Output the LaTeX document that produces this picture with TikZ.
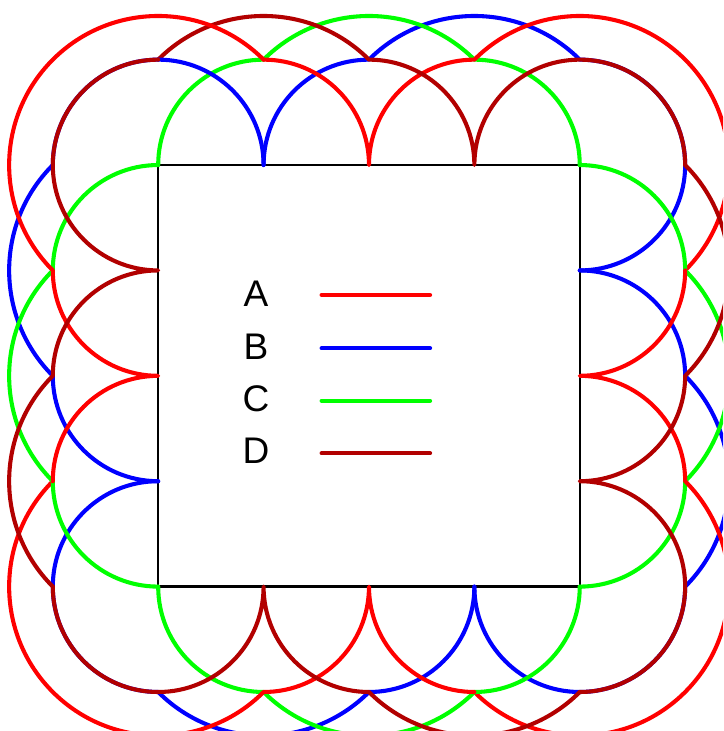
\documentclass[tikz,border=0pt]{standalone}
\usepackage{fontspec}
\setmainfont{Liberation Sans}
\definecolor{cA}{RGB}{255,0,0}
\definecolor{cB}{RGB}{0,0,255}
\definecolor{cC}{RGB}{0,255,0}
\definecolor{cD}{RGB}{178,0,0}
\begin{document}
\begin{tikzpicture}[x=1cm,y=1cm,
  trace/.style={line width=1.1pt, line cap=round, line join=round},
  frame/.style={line width=0.65pt, black},
  legendline/.style={line width=1.15pt, line cap=round},
  legendtext/.style={font=\fontsize{10}{12}\selectfont, inner sep=0pt}]
\useasboundingbox (-1.501,-1.370) rectangle (5.359,5.566);
\clip (-1.501,-1.370) rectangle (5.359,5.566);
\draw[frame] (0,0) rectangle (4,4);
\foreach \k in {0,1,2,3}{
  \begin{scope}[rotate around={-90*\k:(2,2)}]
    % B (blue)
    \draw[trace,cB] (1,4) arc[start angle=180,end angle=90,radius=1]
      arc[start angle=135,end angle=45,radius=1.41421]
      arc[start angle=90,end angle=-90,radius=1];
    % C (green)
    \draw[trace,cC] (0,4) arc[start angle=180,end angle=90,radius=1]
      arc[start angle=135,end angle=45,radius=1.41421]
      arc[start angle=90,end angle=0,radius=1];
    % A (red)
    \draw[trace,cA] (1,5) arc[start angle=90,end angle=0,radius=1]
      arc[start angle=180,end angle=90,radius=1]
      arc[start angle=135,end angle=-45,radius=1.41421];
    % D (dark red)
    \draw[trace,cD] (0,5) arc[start angle=135,end angle=45,radius=1.41421]
      arc[start angle=90,end angle=0,radius=1]
      arc[start angle=180,end angle=0,radius=1];
  \end{scope}
}
% legend
\node[legendtext] (lA) at (0.928,2.782) {A};
\node[legendtext] (lB) at (0.928,2.278) {B};
\node[legendtext] (lC) at (0.928,1.785) {C};
\node[legendtext] (lD) at (0.928,1.287) {D};
\coordinate (aS) at (1.551,2.767); \coordinate (aE) at (2.579,2.767);
\coordinate (bS) at (1.551,2.261); \coordinate (bE) at (2.579,2.261);
\coordinate (cS) at (1.551,1.764); \coordinate (cE) at (2.579,1.764);
\coordinate (dS) at (1.551,1.265); \coordinate (dE) at (2.579,1.265);
\draw[legendline,cA] (aS) -- (aE);
\draw[legendline,cB] (bS) -- (bE);
\draw[legendline,cC] (cS) -- (cE);
\draw[legendline,cD] (dS) -- (dE);
\end{tikzpicture}
\end{document}
